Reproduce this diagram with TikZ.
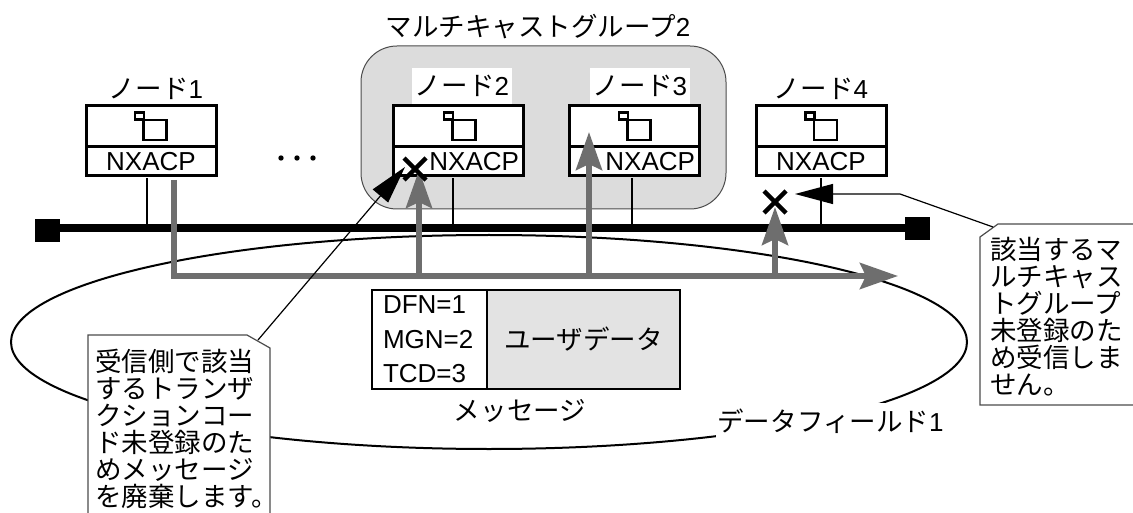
\documentclass[tikz,border=0pt]{standalone}
\usepackage{fontspec}
\setmainfont{Liberation Sans}
\newfontfamily\jpfont[Scale=1.02]{Noto Sans CJK JP}
\usetikzlibrary{positioning,arrows.meta}
\definecolor{FlowGray}{HTML}{6E6E6E}
\definecolor{GroupGray}{HTML}{DCDCDC}
\definecolor{DataGray}{HTML}{E3E3E3}
\tikzstyle{BaseText}=[font=\fontsize{26}{27}\selectfont, inner sep=0pt, outer sep=0pt]
\tikzstyle{NodeBox}=[rectangle, draw=black, fill=white, line width=3pt, minimum width=130pt, minimum height=41pt, inner sep=0pt, outer sep=0pt]
\tikzstyle{ProtoBox}=[NodeBox, BaseText, minimum height=29pt]
\tikzstyle{NodeName}=[BaseText, fill=white, minimum width=100pt, minimum height=36pt]
\tikzstyle{SmallSq}=[rectangle, draw=black, fill=white, line width=2.5pt, minimum width=9pt, minimum height=7pt, inner sep=0pt, outer sep=0pt]
\tikzstyle{BigSq}=[rectangle, draw=black, line width=2.5pt, minimum width=23pt, minimum height=20pt, inner sep=0pt, outer sep=0pt]
\tikzstyle{BusEnd}=[rectangle, fill=black, minimum width=25pt, minimum height=23pt, inner sep=0pt, outer sep=0pt]
\tikzstyle{Flow}=[draw=FlowGray, line width=6pt]
\tikzstyle{FlowArrow}=[Flow, -{Stealth[length=38pt,width=26pt,inset=6pt]}]
\tikzstyle{CallLine}=[draw=black, line width=1.2pt]
\tikzstyle{CallArrow}=[CallLine, -{Stealth[length=38pt,width=20pt,inset=0pt]}]
\tikzstyle{CallBox}=[draw=black!70, fill=white, line width=1.2pt]
\tikzstyle{CallText}=[BaseText, font=\jpfont\fontsize{26}{27}\selectfont, align=left, anchor=north west]
\begin{document}
\begin{tikzpicture}[x=1pt, y=-1pt]
      \useasboundingbox (0,0) rectangle (1133,513);
      % multicast group
      \draw[draw=black!70, fill=GroupGray, line width=1pt, rounded corners=36pt] (361,46) rectangle (726,209);
      \node[BaseText] (Group) at (538,27) {\jpfont マルチキャストグループ\rmfamily 2};
      % nodes
      \node[NodeBox] (Box1) at (151,126.5) {};
      \node[NodeBox] (Box2) at (458,126.5) {};
      \node[NodeBox] (Box3) at (634,126.5) {};
      \node[NodeBox] (Box4) at (821,126.5) {};
      \node[ProtoBox] (Proto1) [below=0pt of Box1] {NXACP};
      \node[ProtoBox, text width=124pt, align=right] (Proto2) [below=0pt of Box2] {NXACP\kern1pt};
      \node[ProtoBox, text width=124pt, align=right] (Proto3) [below=0pt of Box3] {NXACP\kern1pt};
      \node[ProtoBox] (Proto4) [below=0pt of Box4] {NXACP};
      \node[BaseText] (Name1) [above=6pt of Box1, xshift=5pt] {\jpfont ノード\rmfamily 1};
      \node[NodeName] (Name2) at (462,86) {\jpfont ノード\rmfamily 2};
      \node[NodeName] (Name3) at (640,86) {\jpfont ノード\rmfamily 3};
      \node[BaseText] (Name4) [above=6pt of Box4] {\jpfont ノード\rmfamily 4};
      \foreach \n/\x in {1/155, 2/464, 3/639, 4/825.5} {
        \node[SmallSq] (Small\n) at (\x-15.5,116) {};
        \node[BigSq] (Big\n) at (\x,130) {};
      }
      \foreach \x in {281, 297, 313} {
        \fill (\x,158) circle (2.7pt);
      }
      % field ellipse
      \draw[line width=2pt] (489,342) ellipse (478pt and 107pt);
      % bus
      \node[BusEnd] (BusL) at (47.5,230.5) {};
      \node[BusEnd] (BusR) at (917.5,228.5) {};
      \draw[line width=8pt] (BusL.east |- 0,228) -- (BusR.west |- 0,228);
      \foreach \n/\x in {1/147, 2/453, 3/632, 4/821} {
        \coordinate (Tap\n) at (\x,228);
        \draw[line width=2.5pt] (Tap\n) -- (\x,178);
      }
      % message flow
      \coordinate (FlowStart) at (174,180);
      \coordinate (FlowCorner) at (174,276);
      \coordinate (FlowEnd) at (898,276);
      \coordinate (Up2) at (419,276);
      \coordinate (Up3) at (589,276);
      \coordinate (Up4) at (775,276);
      \coordinate (Tip2) at (419,170);
      \coordinate (Tip3) at (589,132);
      \coordinate (Tip4) at (775,207);
      \draw[FlowArrow] (FlowStart) -- (FlowCorner) -- (FlowEnd);
      \draw[FlowArrow] (Up2) -- (Tip2);
      \draw[FlowArrow] (Up3) -- (Tip3);
      \draw[FlowArrow] (Up4) -- (Tip4);
      % crosses
      \foreach \n/\x/\y in {2/415/169, 4/775/202} {
        \coordinate (Cross\n) at (\x,\y);
        \draw[line width=4.5pt] (\x-11,\y-11) -- (\x+11,\y+11) (\x-11,\y+11) -- (\x+11,\y-11);
      }
      % message
      \node[rectangle, draw=black, line width=2.5pt, fill=DataGray, minimum width=193pt, minimum height=99pt, inner sep=0pt, outer sep=0pt] (Data) at (583.5,339.5) {};
      \node[BaseText] (DataText) at (Data.center) {\jpfont ユーザデータ};
      \node[rectangle, draw=black, line width=2.5pt, fill=white, minimum width=115pt, minimum height=99pt, inner sep=0pt, outer sep=0pt, left=0pt of Data] (Fields) {};
      \node[BaseText, anchor=west] (Dfn) at (383,305) {DFN=1};
      \node[BaseText, anchor=west] (Mgn) at (383,340) {MGN=2};
      \node[BaseText, anchor=west] (Tcd) at (383,374) {TCD=3};
      \node[BaseText] (Msg) at (520,411) {\jpfont メッセージ};
      \node[BaseText, fill=white, minimum width=229pt, minimum height=37pt] (Field) at (830.5,421.5) {\jpfont データフィールド\rmfamily 1};
      % callouts
      \draw[CallBox] (88,520) -- (88,335) -- (247,335) -- (270,348) -- (270,520);
      \draw[CallBox] (1140,224) -- (998,224) -- (980,237) -- (980,405) -- (1140,405);
      \node[CallText] (NoteL) at (95,349) {受信側で該当\\するトランザ\\クションコー\\ド未登録のた\\めメッセージ\\を廃棄します。};
      \node[CallText] (NoteR) at (990,237) {該当するマ\\ルチキャス\\トグループ\\未登録のた\\め受信しま\\せん。};
      \coordinate (NoteLTop) at (258,340);
      \coordinate (NoteRTop) at (993,227);
      \coordinate (BendR) at (900,194);
      \coordinate (TipL) at (405,167);
      \coordinate (TipR) at (795,194);
      \draw[CallArrow] (NoteLTop) -- (TipL);
      \draw[CallArrow] (NoteRTop) -- (BendR) -- (TipR);
    \end{tikzpicture}
\end{document}
